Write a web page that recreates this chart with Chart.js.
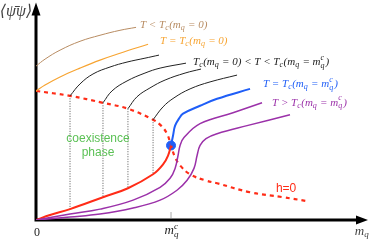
<!DOCTYPE html>
<html>
<head>
<meta charset="utf-8">
<script src="https://cdn.jsdelivr.net/npm/chart.js@4"></script>
<style>
  html, body { margin: 0; padding: 0; background: #fff; }
</style>
</head>
<body>
<canvas id="myChart" width="374" height="242"></canvas>
<script>
// x in units of m_q^c, y arbitrary units of <psibar psi>
var mqc = 1.0;

var brownX = [0, 0.067, 0.178, 0.326, 0.474, 0.622, 0.741];
var brownY = [1.148, 1.2, 1.267, 1.333, 1.378, 1.415, 1.437];

var orangeX = [0, 0.067, 0.178, 0.326, 0.474, 0.622, 0.830];
var orangeY = [0.963, 1.007, 1.067, 1.133, 1.193, 1.244, 1.311];

var h0X = [0, 0.252, 0.496, 0.681, 0.867, 0.926, 0.970, 1.0, 1.03, 1.067, 1.141, 1.252, 1.341, 1.585, 1.83, 2.007];
var h0Y = [0.963, 0.926, 0.874, 0.830, 0.748, 0.704, 0.644, 0.556, 0.467, 0.407, 0.341, 0.296, 0.274, 0.207, 0.170, 0.141];

var redX = [0, 0.104, 0.252, 0.496, 0.681, 0.867, 0.941, 0.978, 1.0];
var redY = [0, 0.037, 0.081, 0.170, 0.237, 0.341, 0.415, 0.481, 0.556];

var blueX = [1.0, 1.015, 1.030, 1.059, 1.089, 1.215, 1.341, 1.585];
var blueY = [0.556, 0.630, 0.704, 0.756, 0.793, 0.852, 0.904, 0.978];

var black1X = [0.252, 0.326, 0.422, 0.548, 0.674, 0.807, 0.911];
var black1Y = [0.926, 1.015, 1.089, 1.141, 1.178, 1.207, 1.230];
var black2X = [0.496, 0.563, 0.674, 0.807, 0.919, 1.111];
var black2Y = [0.874, 0.963, 1.037, 1.096, 1.133, 1.170];
var black3X = [0.681, 0.748, 0.844, 0.956, 1.104, 1.222];
var black3Y = [0.830, 0.919, 0.985, 1.044, 1.096, 1.126];
var black4X = [0.867, 0.941, 1.022, 1.141, 1.289, 1.489];
var black4Y = [0.748, 0.844, 0.911, 0.978, 1.030, 1.081];

var vertX = [0.252, 0.496, 0.681, 0.867];
var vertTop = [0.926, 0.874, 0.830, 0.748];
var vertBot = [0.081, 0.170, 0.237, 0.341];

var purple1X = [0, 0.252, 0.474, 0.719, 0.919, 0.993, 1.030, 1.052, 1.067, 1.096, 1.215, 1.459, 1.674];
var purple1Y = [0, 0.044, 0.081, 0.148, 0.244, 0.311, 0.385, 0.481, 0.556, 0.615, 0.719, 0.800, 0.874];
var purple2X = [0, 0.252, 0.474, 0.719, 0.919, 1.044, 1.119, 1.170, 1.193, 1.215, 1.259, 1.341, 1.563, 1.881];
var purple2Y = [0, 0.022, 0.044, 0.089, 0.148, 0.222, 0.296, 0.385, 0.481, 0.556, 0.607, 0.644, 0.704, 0.785];

var BROWN = '#b88c62', ORANGE = '#f7a431', BLACK = '#222222', BLUE = '#1f5ef7',
    PURPLE = '#9b31a9', RED = '#ff2c17', GREEN = '#5cc156';

function pts(xs, ys) {
    return xs.map(function (x, i) { return { x: x, y: ys[i] }; });
}

function line(xs, ys, color, width, dash) {
    return {
        data: pts(xs, ys),
        borderColor: color,
        borderWidth: width,
        borderDash: dash || [],
        pointRadius: 0,
        tension: 0.4,
        fill: false
    };
}

var datasets = [
    line(brownX, brownY, BROWN, 1),
    line(orangeX, orangeY, ORANGE, 1.2),
    line(black1X, black1Y, BLACK, 1),
    line(black2X, black2Y, BLACK, 1),
    line(black3X, black3Y, BLACK, 1),
    line(black4X, black4Y, BLACK, 1),
    line(purple1X, purple1Y, PURPLE, 1.5),
    line(purple2X, purple2Y, PURPLE, 1.5),
    line(blueX, blueY, BLUE, 2),
    line(redX, redY, RED, 2),
    line(h0X, h0Y, RED, 2.2, [4, 4])
];
vertX.forEach(function (x, i) {
    var d = line([x, x], [vertTop[i], vertBot[i]], '#555', 1, [1, 1.5]);
    d.tension = 0;
    datasets.push(d);
});
datasets.push({
    data: [{ x: mqc, y: 0.556 }],
    showLine: false,
    pointRadius: 4.5,
    pointBackgroundColor: BLUE,
    pointBorderColor: BLUE
});

// labels anchored in data coords; parts: [text, kind] kind n|sub|sup|ss
var labels = [
    { x: 0.770, y: 1.452, color: BROWN, parts: [['T < T', 'n'], ['c', 'sub'], ['(m', 'n'], ['q', 'sub'], [' = 0)', 'n']] },
    { x: 0.919, y: 1.333, color: ORANGE, parts: [['T = T', 'n'], ['c', 'sub'], ['(m', 'n'], ['q', 'sub'], [' = 0)', 'n']] },
    { x: 1.163, y: 1.178, color: BLACK, parts: [['T', 'n'], ['c', 'sub'], ['(m', 'n'], ['q', 'sub'], [' = 0) < T < T', 'n'], ['c', 'sub'], ['(m', 'n'], ['q', 'sub'], [' = m', 'n'], [['q', 'c'], 'ss'], [')', 'n']] },
    { x: 1.681, y: 1.015, color: BLUE, parts: [['T = T', 'n'], ['c', 'sub'], ['(m', 'n'], ['q', 'sub'], [' = m', 'n'], [['q', 'c'], 'ss'], [')', 'n']] },
    { x: 1.748, y: 0.874, color: PURPLE, parts: [['T > T', 'n'], ['c', 'sub'], ['(m', 'n'], ['q', 'sub'], [' = m', 'n'], [['q', 'c'], 'ss'], [')', 'n']] }
];

var MATH = 'italic 11px "Liberation Serif", "DejaVu Serif", serif';
var MATH_S = 'italic 8px "Liberation Serif", "DejaVu Serif", serif';

function richWidth(ctx, parts, big, small) {
    var w = 0;
    parts.forEach(function (p) {
        if (p[1] === 'n') { ctx.font = big; w += ctx.measureText(p[0]).width; }
        else if (p[1] === 'ss') { ctx.font = small; w += Math.max(ctx.measureText(p[0][0]).width, ctx.measureText(p[0][1]).width) + 1; }
        else { ctx.font = small; w += ctx.measureText(p[0]).width + 0.5; }
    });
    return w;
}

function drawRich(ctx, parts, x, y, color, align, big, small) {
    big = big || MATH; small = small || MATH_S;
    var w = richWidth(ctx, parts, big, small);
    if (align === 'center') x -= w / 2;
    ctx.fillStyle = color;
    ctx.textBaseline = 'middle';
    ctx.textAlign = 'left';
    parts.forEach(function (p) {
        if (p[1] === 'n') {
            ctx.font = big; ctx.fillText(p[0], x, y); x += ctx.measureText(p[0]).width;
        } else if (p[1] === 'sub') {
            ctx.font = small; ctx.fillText(p[0], x, y + 3); x += ctx.measureText(p[0]).width + 0.5;
        } else if (p[1] === 'sup') {
            ctx.font = small; ctx.fillText(p[0], x, y - 4); x += ctx.measureText(p[0]).width + 0.5;
        } else {
            ctx.font = small;
            ctx.fillText(p[0][0], x, y + 3.5);
            ctx.fillText(p[0][1], x, y - 4.5);
            x += Math.max(ctx.measureText(p[0][0]).width, ctx.measureText(p[0][1]).width) + 1;
        }
    });
}

var axesPlugin = {
    id: 'axes',
    beforeDatasetsDraw: function (chart) {
        var ctx = chart.ctx, xs = chart.scales.x, ys = chart.scales.y;
        var x0 = xs.getPixelForValue(0), y0 = ys.getPixelForValue(0);
        var top = chart.chartArea.top, right = chart.chartArea.right;
        ctx.save();
        ctx.strokeStyle = '#000'; ctx.fillStyle = '#000'; ctx.lineWidth = 3;
        ctx.beginPath();
        ctx.moveTo(x0, y0); ctx.lineTo(x0, top + 8);
        ctx.moveTo(x0 - 1.5, y0); ctx.lineTo(right - 6, y0);
        ctx.stroke();
        ctx.beginPath();
        ctx.moveTo(x0, top - 3); ctx.lineTo(x0 - 4.5, top + 10); ctx.lineTo(x0 + 4.5, top + 10); ctx.closePath();
        ctx.fill();
        ctx.beginPath();
        ctx.moveTo(right + 2, y0); ctx.lineTo(right - 10, y0 - 4.5); ctx.lineTo(right - 10, y0 + 4.5); ctx.closePath();
        ctx.fill();
        // tick at m_q^c
        var xc = xs.getPixelForValue(mqc);
        ctx.strokeStyle = '#aaa'; ctx.lineWidth = 1;
        ctx.beginPath(); ctx.moveTo(xc, y0 - 8); ctx.lineTo(xc, y0 - 2); ctx.stroke();
        ctx.restore();
    },
    afterDatasetsDraw: function (chart) {
        var ctx = chart.ctx, xs = chart.scales.x, ys = chart.scales.y;
        var y0 = ys.getPixelForValue(0);
        ctx.save();
        labels.forEach(function (l) {
            drawRich(ctx, l.parts, xs.getPixelForValue(l.x), ys.getPixelForValue(l.y), l.color, 'left');
        });
        // axis labels
        drawRich(ctx, [['0', 'n']], xs.getPixelForValue(0) + 1, y0 + 13, BLACK, 'center',
            '12px "Liberation Serif", serif');
        drawRich(ctx, [['m', 'n'], [['q', 'c'], 'ss']], xs.getPixelForValue(mqc) + 1, y0 + 11, BLACK, 'center',
            'italic 13px "Liberation Serif", serif', 'italic 9px "Liberation Serif", serif');
        drawRich(ctx, [['m', 'n'], ['q', 'sub']], chart.chartArea.right - 4, y0 + 12, '#444', 'center',
            'italic 13px "Liberation Serif", serif', 'italic 9px "Liberation Serif", serif');
        drawRich(ctx, [['\u27E8\u03C8\u0304\u03C8\u27E9', 'n']], 16, 12, '#444', 'center',
            'italic 16px "Liberation Serif", "DejaVu Serif", serif');
        // region labels
        ctx.font = '12px "Liberation Sans", Arial, sans-serif';
        ctx.textAlign = 'center'; ctx.textBaseline = 'middle';
        ctx.fillStyle = GREEN;
        ctx.fillText('coexistence', xs.getPixelForValue(0.459), ys.getPixelForValue(0.607));
        ctx.fillText('phase', xs.getPixelForValue(0.459), ys.getPixelForValue(0.500));
        ctx.fillStyle = RED;
        ctx.fillText('h=0', xs.getPixelForValue(1.852), ys.getPixelForValue(0.230));
        ctx.restore();
    }
};

var phaseChart = new Chart(document.getElementById('myChart'), {
    type: 'line',
    data: { datasets: datasets },
    options: {
        responsive: false,
        animation: false,
        layout: { padding: { left: 36, right: 8, top: 4, bottom: 22 } },
        plugins: { legend: { display: false }, tooltip: { enabled: false } },
        scales: {
            x: { type: 'linear', min: 0, max: 2.444, display: false },
            y: { type: 'linear', min: 0, max: 1.6, display: false }
        }
    },
    plugins: [axesPlugin]
});
</script>
</body>
</html>
